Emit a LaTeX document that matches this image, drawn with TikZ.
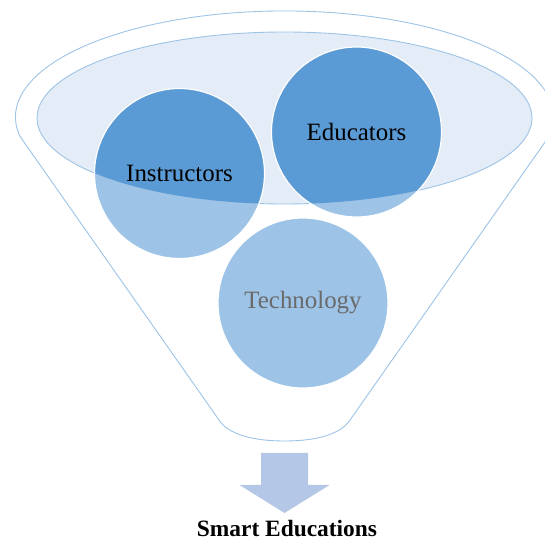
\documentclass[tikz,border=0pt]{standalone}
\usepackage{fontspec}
\setmainfont{Liberation Serif}
\definecolor{darkc}{HTML}{5B9BD5}
\definecolor{lightc}{HTML}{9DC3E6}
\definecolor{ellfill}{HTML}{E4ECF7}
\definecolor{outl}{HTML}{9DC3E6}
\definecolor{arrowc}{HTML}{B4C7E7}
\definecolor{techtext}{HTML}{6A6A6A}
\tikzset{
  bubble/.style={circle, minimum size=170bp, inner sep=0pt, fill=lightc},
  bubbleline/.style={draw=white, line width=1.2bp},
  lbl/.style={font=\fontsize{25}{29}\selectfont},
  funnelline/.style={draw=outl, line width=0.9bp},
}
\begin{document}
\begin{tikzpicture}[x=1bp,y=1bp]
\useasboundingbox (0,0) rectangle (545,542);
\clip (0,0) rectangle (545,542);
% outer funnel
\draw[funnelline, line join=round]
  (20.4,405) -- (219,122)
  .. controls (228,108) and (252,101) .. (284.5,101)
  .. controls (317,101) and (341,108) .. (350,122)
  -- (548.6,405)
  arc[start angle=-10.9, end angle=190.9, x radius=269, y radius=106] -- cycle;
% inner ellipse
\draw[funnelline, fill=ellfill] (284.5,424) ellipse[x radius=247.5, y radius=86];
% circles (light)
\node[bubble] (instr) at (179.5,368.5) {};
\node[bubble] (educ) at (356.5,410) {};
\node[bubble] (tech) at (303,239) {};
% dark parts inside ellipse
\begin{scope}
  \clip (284.5,424) ellipse[x radius=247.5, y radius=86];
  \fill[darkc] (instr.center) circle[radius=85];
  \fill[darkc] (educ.center) circle[radius=85];
\end{scope}
% white outlines
\draw[bubbleline] (instr.center) circle[radius=85];
\draw[bubbleline] (educ.center) circle[radius=85];
\draw[bubbleline] (tech.center) circle[radius=85];
% labels
\node[lbl] at (instr.center) {Instructors};
\node[lbl] at (educ.center) {Educators};
\node[lbl, text=techtext] at (tech.center) {Technology};
% arrow
\fill[arrowc] (261,89) -- (308,89) -- (308,57) -- (329.5,57) -- (284.5,29) -- (239.5,57) -- (261,57) -- cycle;
\node[font=\fontsize{23.5}{26}\selectfont\bfseries, inner sep=0pt, anchor=base] (res) at (287,5) {Smart Educations};
\end{tikzpicture}
\end{document}
